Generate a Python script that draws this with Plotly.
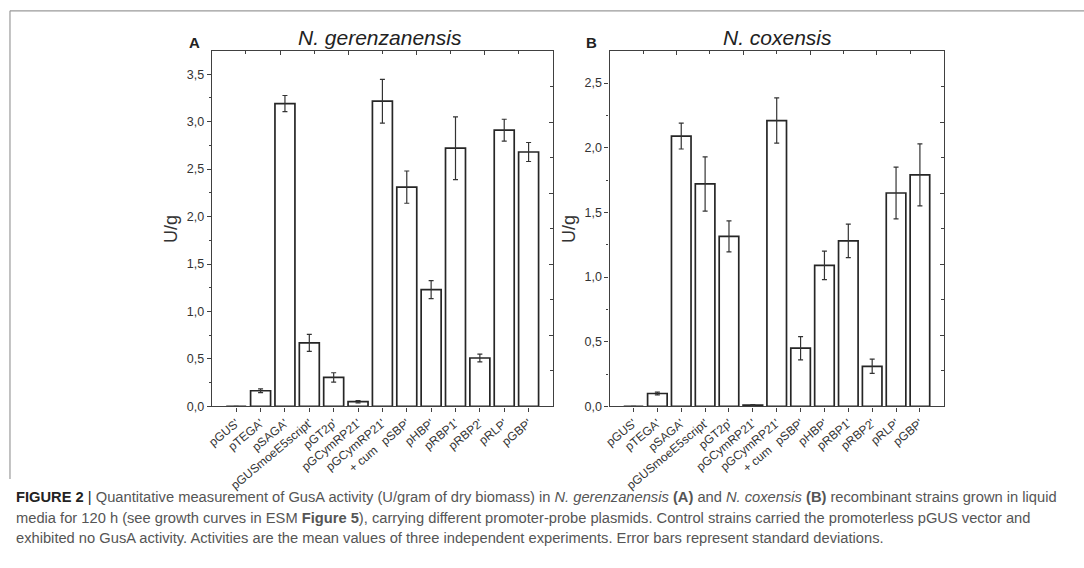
import plotly.graph_objects as go

labels = ["pGUS'", "pTEGA'", "pSAGA'", "pGUSmoeE5script'", "pGT2p'", "pGCymRP21'",
          "pGCymRP21'", "pSBP'", "pHBP'", "pRBP1'", "pRBP2'", "pRLP'", "pGBP'"]
extra_label = "+ cum"
extra_index = 6

ger_vals = [0.0, 0.165, 3.19, 0.67, 0.305, 0.05, 3.215, 2.31, 1.23, 2.72, 0.51, 2.91, 2.68]
ger_err = [0.0, 0.02, 0.085, 0.09, 0.05, 0.012, 0.23, 0.17, 0.095, 0.33, 0.04, 0.115, 0.1]

cox_vals = [0.0, 0.10, 2.09, 1.72, 1.315, 0.01, 2.21, 0.45, 1.09, 1.28, 0.31, 1.65, 1.79]
cox_err = [0.0, 0.01, 0.1, 0.21, 0.12, 0.004, 0.175, 0.09, 0.11, 0.13, 0.055, 0.2, 0.24]

W, H = 1084, 568
LINE = "#404040"
TXT = "#333333"
FONT = "Liberation Sans, Arial, sans-serif"
ANGLE = -40

def px_x(p):
    return p / W

def px_y(p):
    return 1 - p / H

panels = [
    dict(vals=ger_vals, err=ger_err, x0=207, x1=550, ymax=3.74, xa="x", ya="y", xo="x3", yo="y3"),
    dict(vals=cox_vals, err=cox_err, x0=607, x1=943, ymax=2.745, xa="x2", ya="y2", xo="x4", yo="y4"),
]
ytop, ybot = 52, 411.5
xs = list(range(len(labels)))

fig = go.Figure()
layout = dict(
    width=W, height=H, margin=dict(l=0, r=0, t=0, b=0),
    paper_bgcolor="white", plot_bgcolor="white",
    showlegend=False, separators=",.",
    font=dict(family=FONT, color=TXT),
)

ann = []

for i, p in enumerate(panels):
    fig.add_trace(go.Bar(
        x=xs, y=p["vals"], width=0.82,
        marker=dict(color="white", line=dict(color="#262626", width=1.7)),
        error_y=dict(type="data", array=p["err"], visible=True, color="#333333",
                     thickness=1.2, width=2.5),
        xaxis=p["xa"], yaxis=p["ya"], hoverinfo="skip",
    ))
    fig.add_trace(go.Scatter(x=[None], y=[None], xaxis=p["xo"], yaxis=p["yo"],
                             showlegend=False, hoverinfo="skip"))
    dom_x = [px_x(p["x0"]), px_x(p["x1"])]
    dom_y = [px_y(ybot), px_y(ytop)]
    n = "" if i == 0 else "2"
    no = "3" if i == 0 else "4"
    layout["xaxis" + n] = dict(
        domain=dom_x, anchor="y" + n, range=[-1, 13],
        tickmode="array", tickvals=xs, ticktext=labels, tickangle=ANGLE,
        ticks="outside", ticklen=4, tickcolor=LINE, tickwidth=1,
        showline=True, linecolor=LINE, linewidth=1.3, mirror=True,
        showgrid=False, zeroline=False,
        tickfont=dict(size=12, color=TXT, family=FONT),
    )
    layout["yaxis" + n] = dict(
        domain=dom_y, anchor="x" + n, range=[0, p["ymax"]],
        tick0=0, dtick=0.5, tickformat=".1f",
        ticks="outside", ticklen=4, tickcolor=LINE, tickwidth=1,
        minor=dict(dtick=0.25, ticks="outside", ticklen=2, tickcolor=LINE),
        showline=True, linecolor=LINE, linewidth=1.3, mirror=True,
        showgrid=False, zeroline=False,
        tickfont=dict(size=12.5, color=TXT, family=FONT),
        title=dict(text="U/g", font=dict(size=18, color=TXT, family=FONT), standoff=4),
    )
    layout["xaxis" + no] = dict(
        overlaying="x" + n, anchor="y" + n, side="top", range=[0, 10],
        tick0=0, dtick=2, ticks="inside", ticklen=4, tickcolor=LINE,
        minor=dict(dtick=1, ticks="inside", ticklen=2.5, tickcolor=LINE),
        showticklabels=False, showline=False, showgrid=False, zeroline=False,
    )
    layout["yaxis" + no] = dict(
        overlaying="y" + n, anchor="x" + n, side="right", range=[0, 10],
        tick0=0, dtick=2, ticks="inside", ticklen=4, tickcolor=LINE,
        minor=dict(dtick=1, ticks="inside", ticklen=2.5, tickcolor=LINE),
        showticklabels=False, showline=False, showgrid=False, zeroline=False,
    )
    # second line of the "+ cum" category label
    ann.append(dict(text=extra_label, x=extra_index, xref=p["xa"], y=px_y(465), yref="paper",
                    xshift=-19, showarrow=False, textangle=ANGLE,
                    xanchor="center", yanchor="middle",
                    font=dict(size=12, color=TXT, family=FONT)))

fig.update_layout(**layout)

def add_text(text, x, y, size, xanchor="center", color=TXT):
    ann.append(dict(text=text, x=px_x(x), y=px_y(y), xref="paper", yref="paper",
                    xanchor=xanchor, yanchor="middle", showarrow=False,
                    font=dict(size=size, color=color, family=FONT)))

add_text("<b>A</b>", 190, 43, 15, color="#222")
add_text("<i>N. gerenzanensis</i>", 376, 38, 21, color="#222")
add_text("<b>B</b>", 589, 43, 15, color="#222")
add_text("<i>N. coxensis</i>", 776, 38, 21, color="#222")

cap = "#555555"
CAP = 14.7
add_text("<b><span style='color:#222'>FIGURE 2</span></b> <span style='color:#222'>|</span> "
         "Quantitative measurement of GusA activity (U/gram of dry biomass) in <i>N. gerenzanensis</i> "
         "<b>(A)</b> and <i>N. coxensis</i> <b>(B)</b> recombinant strains grown in liquid",
         8, 503, CAP, xanchor="left", color=cap)
add_text("media for 120 h (see growth curves in ESM <b>Figure 5</b>), carrying different promoter-probe "
         "plasmids. Control strains carried the promoterless pGUS vector and",
         8, 524, CAP, xanchor="left", color=cap)
add_text("exhibited no GusA activity. Activities are the mean values of three independent experiments. "
         "Error bars represent standard deviations.",
         8, 545, CAP, xanchor="left", color=cap)

fig.update_layout(annotations=ann)

fig.add_shape(type="line", xref="paper", yref="paper", x0=px_x(4), x1=1, y0=px_y(11), y1=px_y(11),
              line=dict(color="#9a9a9a", width=1.2))
fig.add_shape(type="line", xref="paper", yref="paper", x0=px_x(4), x1=px_x(4), y0=px_y(11), y1=px_y(485),
              line=dict(color="#9a9a9a", width=1.2))

fig.write_html("out.html")
